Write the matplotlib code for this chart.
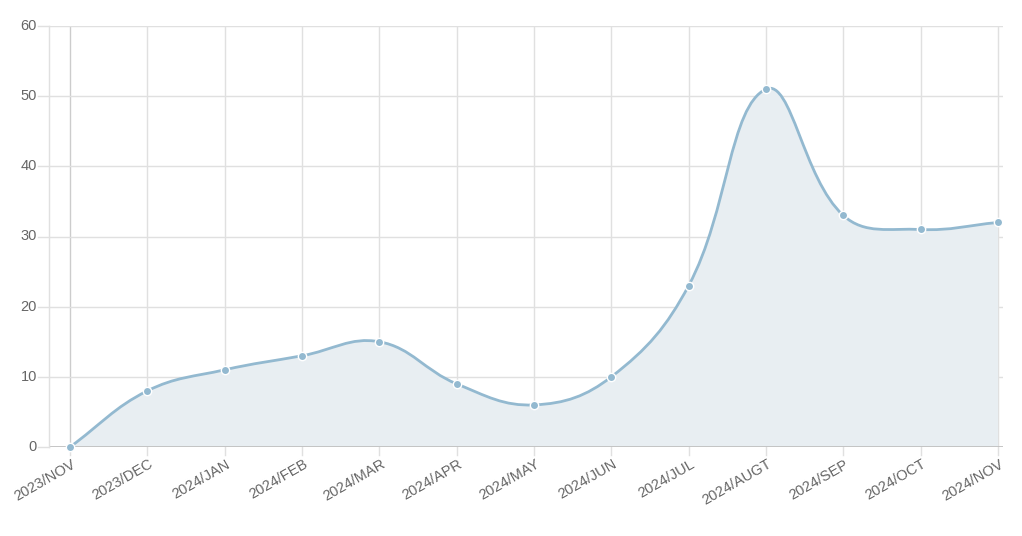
import numpy as np
import matplotlib
matplotlib.use("Agg")
import matplotlib.pyplot as plt
from matplotlib.path import Path
from matplotlib.patches import PathPatch

labels = ["2023/NOV", "2023/DEC", "2024/JAN", "2024/FEB", "2024/MAR", "2024/APR",
          "2024/MAY", "2024/JUN", "2024/JUL", "2024/AUGT", "2024/SEP", "2024/OCT", "2024/NOV"]
values = [0, 8, 11, 13, 15, 9, 6, 10, 23, 51, 33, 31, 32]
yticks = [0, 10, 20, 30, 40, 50, 60]

line_color = "#93b9d0"
fill_color = "#e8eef2"
grid_color = "#e0e0e0"
text_color = "#666666"

W, H = 1022, 536
fig = plt.figure(figsize=(W / 100, H / 100), dpi=100)
left, right, top, bottom = 49, 1003, 26, 447
ax = fig.add_axes([left / W, 1 - bottom / H, (right - left) / W, (bottom - top) / H])

xs = np.arange(len(values))
x0px, x1px = 70, 998
pxu = (x1px - x0px) / (len(values) - 1)
ax.set_xlim(-(x0px - left) / pxu, len(values) - 1 + (right - x1px) / pxu)
ax.set_ylim(0, 60)
pyu = (bottom - top) / 60.0


def spline_path(xd, yd, t=0.4):
    # chart.js style bezier, computed in pixel space
    px = xd * pxu
    py = np.asarray(yd, float) * pyu
    n = len(px)
    cp_prev = []
    cp_next = []
    for i in range(n):
        p = (px[max(i - 1, 0)], py[max(i - 1, 0)])
        c = (px[i], py[i])
        nx = (px[min(i + 1, n - 1)], py[min(i + 1, n - 1)])
        d01 = np.hypot(c[0] - p[0], c[1] - p[1])
        d12 = np.hypot(nx[0] - c[0], nx[1] - c[1])
        tot = d01 + d12
        s01 = d01 / tot if tot else 0
        s12 = d12 / tot if tot else 0
        fa, fb = t * s01, t * s12
        cp_prev.append((c[0] - fa * (nx[0] - p[0]), c[1] - fa * (nx[1] - p[1])))
        cp_next.append((c[0] + fb * (nx[0] - p[0]), c[1] + fb * (nx[1] - p[1])))
    verts = [(px[0], py[0])]
    codes = [Path.MOVETO]
    for i in range(n - 1):
        verts += [cp_next[i], cp_prev[i + 1], (px[i + 1], py[i + 1])]
        codes += [Path.CURVE4] * 3
    verts = [(vx / pxu, vy / pyu) for vx, vy in verts]
    return verts, codes


verts, codes = spline_path(xs, values)
fill_verts = verts + [(xs[-1], 0), (xs[0], 0), verts[0]]
fill_codes = codes + [Path.LINETO, Path.LINETO, Path.CLOSEPOLY]
ax.add_patch(PathPatch(Path(fill_verts, fill_codes), facecolor=fill_color, edgecolor="none", zorder=1))
ax.add_patch(PathPatch(Path(verts, codes), facecolor="none", edgecolor=line_color, lw=2, zorder=3))
ax.plot(xs, values, "o", ms=6, mfc=line_color, mec="white", mew=1, zorder=4, clip_on=False)

# grid
for x in xs:
    ax.axvline(x, color="#cccccc" if x == 0 else grid_color, lw=1, zorder=0.5)
    ax.plot([x, x], [0, -8 / pyu], color=grid_color, lw=1, clip_on=False)
for y in yticks:
    ax.axhline(y, color=grid_color, lw=1, zorder=0.5)
    ax.plot([-(x0px - 38) / pxu, ax.get_xlim()[0]], [y, y], color=grid_color, lw=1, clip_on=False)
ax.axhline(0, color="#bdbdbd", lw=1.2, zorder=2)

for s in ["top", "right", "bottom"]:
    ax.spines[s].set_visible(False)
ax.spines["left"].set_color(grid_color)
ax.spines["left"].set_linewidth(1)
ax.set_xticks([])
ax.set_yticks([])

for y in yticks:
    ax.text(-(x0px - 37) / pxu, y, str(y), ha="right", va="center", fontsize=10.5,
            color=text_color, family="Liberation Sans")
for x, lab in zip(xs, labels):
    ax.text(x + 1 / pxu, -10 / pyu, lab, ha="right", va="top", rotation=30, rotation_mode="anchor",
            fontsize=10.5, color=text_color, family="Liberation Sans", clip_on=False)

fig.savefig("out.png", dpi=100)
